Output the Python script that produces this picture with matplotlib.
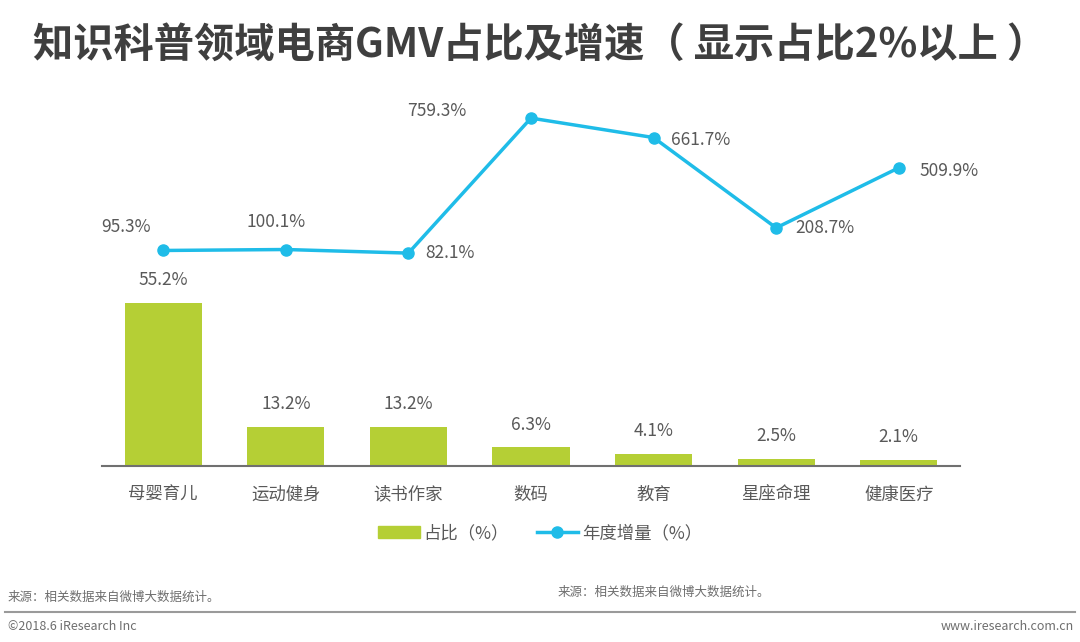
import matplotlib.pyplot as plt
from matplotlib.lines import Line2D
from matplotlib.patches import Patch

plt.rcParams['font.family'] = ['Noto Sans CJK SC', 'DejaVu Sans']

categories = ['母婴育儿', '运动健身', '读书作家', '数码', '教育', '星座命理', '健康医疗']
share = [55.2, 13.2, 13.2, 6.3, 4.1, 2.5, 2.1]
growth = [95.3, 100.1, 82.1, 759.3, 661.7, 208.7, 509.9]

# label offsets for the growth line (points)
growth_offsets = [(-27, 17), (-7, 20), (30, 0), (-68, 5), (34, -2), (35, 0), (36, -2)]

bar_color = '#B5CF35'
line_color = '#1FBCE8'
text_color = '#595959'

fig = plt.figure(figsize=(10.8, 6.42), dpi=100)
ax = fig.add_axes([0.0944, 0.2741, 0.7945, 0.5701])
x = list(range(len(categories)))

ax.bar(x, share, width=0.63, color=bar_color, zorder=2)
for xi, v in zip(x, share):
    ax.annotate(f'{v:.1f}%', (xi, v), xytext=(0, 10), textcoords='offset points',
                ha='center', va='bottom', fontsize=12.5, color=text_color)
ax.set_xlim(-0.5, 6.5)
ax.set_ylim(0, 124)
ax.set_xticks(x)
ax.set_xticklabels(categories, fontsize=12.5, color=text_color)
ax.tick_params(axis='x', length=0, pad=14)
ax.set_yticks([])
for s in ['top', 'right', 'left']:
    ax.spines[s].set_visible(False)
ax.spines['bottom'].set_color('#707070')
ax.spines['bottom'].set_linewidth(1.5)

ax2 = ax.twinx()
ax2.plot(x, growth, color=line_color, lw=2.5, marker='o', ms=8, zorder=3)
for xi, v, off in zip(x, growth, growth_offsets):
    ax2.annotate(f'{v:.1f}%', (xi, v), xytext=off, textcoords='offset points',
                 ha='center', va='center', fontsize=12.5, color=text_color)
ax2.set_ylim(-986, 850)
ax2.set_yticks([])
for s in ['top', 'right', 'left', 'bottom']:
    ax2.spines[s].set_visible(False)

handles = [Patch(color=bar_color),
           Line2D([0], [0], color=line_color, lw=2.5, marker='o', ms=8)]
fig.legend(handles, ['占比（%）', '年度增量（%）'], loc='center',
           bbox_to_anchor=(0.5, 1 - 533 / 642), ncol=2, frameon=False,
           fontsize=12.5, labelcolor=text_color, handlelength=2.4,
           columnspacing=1.6, handletextpad=0.2)

fig.text(0.5, 1 - 45 / 642, '知识科普领域电商GMV占比及增速（ 显示占比2%以上 ）',
         ha='center', va='center', fontsize=29, fontweight='bold', color='#3F3F3F')

fig.text(8 / 1080, 1 - 597 / 642, '来源：相关数据来自微博大数据统计。',
         ha='left', va='center', fontsize=9, color='#6E6E6E')
fig.text(558 / 1080, 1 - 592 / 642, '来源：相关数据来自微博大数据统计。',
         ha='left', va='center', fontsize=9, color='#6E6E6E')
fig.add_artist(Line2D([5 / 1080, 1075 / 1080], [1 - 612 / 642] * 2,
                      color='#9A9A9A', lw=1.5))
fig.text(8 / 1080, 1 - 627 / 642, '©2018.6 iResearch Inc',
         ha='left', va='center', fontsize=9, color='#6E6E6E')
fig.text(1074 / 1080, 1 - 627 / 642, 'www.iresearch.com.cn',
         ha='right', va='center', fontsize=9, color='#6E6E6E')

fig.savefig('out.png', dpi=100)
